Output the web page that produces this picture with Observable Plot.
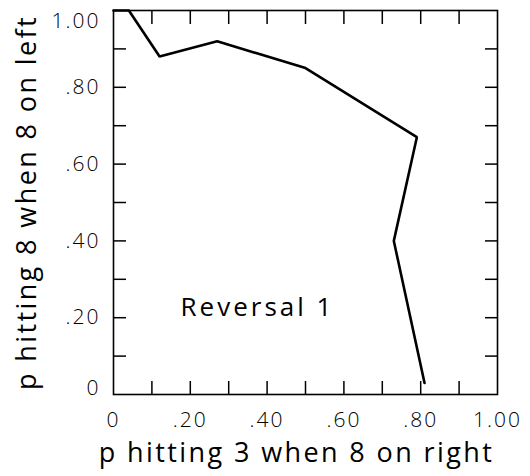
<!DOCTYPE html>
<html>
<head>
<meta charset="utf-8">
<script src="https://cdn.jsdelivr.net/npm/d3@7"></script>
<script src="https://cdn.jsdelivr.net/npm/@observablehq/plot@0.6"></script>
<style>
  html, body { margin: 0; padding: 0; background: #fff; }
  svg { display: block; }
</style>
</head>
<body>
<div id="chart"></div>
<script>
// Data
const pRight = [0, 0.04, 0.12, 0.27, 0.50, 0.79, 0.73, 0.81];
const pLeft  = [1.00, 1.00, 0.88, 0.92, 0.85, 0.67, 0.40, 0.03];

const majorTicks = [0, 0.2, 0.4, 0.6, 0.8, 1.0];
const tickLabels = ["0", ".20", ".40", ".60", ".80", "1.00"];
const minorTicks = [0.1, 0.2, 0.3, 0.4, 0.5, 0.6, 0.7, 0.8, 0.9];
const xTitle = "p hitting 3 when 8 on right";
const yTitle = "p hitting 8 when 8 on left";
const annotation = ["Reversal 1"];
const annotationX = [0.375];
const annotationY = [0.225];

const fmt = d => tickLabels[majorTicks.findIndex(t => Math.abs(t - d) < 1e-9)];

const data = pRight.map((x, i) => ({x, y: pLeft[i]}));
const font = "'Open Sans', sans-serif";
const tickText = {tickSize: 0, tickFormat: fmt, label: null, fontSize: 21, fontWeight: 300, fill: "#000"};

const chart = Plot.plot({
  width: 530,
  height: 476,
  marginLeft: 113,
  marginRight: 33,
  marginTop: 10,
  marginBottom: 82,
  style: {fontFamily: font, background: "#fff", color: "#000"},
  x: {domain: [0, 1]},
  y: {domain: [0, 1]},
  marks: [
    Plot.frame({stroke: "#000", strokeWidth: 1.6}),
    // inward ticks on all four sides
    Plot.axisX(minorTicks, {anchor: "bottom", tickSize: -13, tickFormat: () => "", label: null, strokeWidth: 1.5}),
    Plot.axisX(minorTicks, {anchor: "top", tickSize: -13, tickFormat: () => "", label: null, strokeWidth: 1.5}),
    Plot.axisY(minorTicks, {anchor: "left", tickSize: -13, tickFormat: () => "", label: null, strokeWidth: 1.5}),
    Plot.axisY(minorTicks, {anchor: "right", tickSize: -13, tickFormat: () => "", label: null, strokeWidth: 1.5}),
    // tick labels
    Plot.axisX(majorTicks, {anchor: "bottom", tickPadding: 18, ...tickText}),
    Plot.axisY(majorTicks.slice(1, 5), {anchor: "left", tickPadding: 13, ...tickText}),
    Plot.axisY([1], {anchor: "left", tickPadding: 13, ...tickText, dy: 11}),
    Plot.axisY([0], {anchor: "left", tickPadding: 13, ...tickText, dy: -6}),
    // axis titles
    Plot.text([xTitle], {frameAnchor: "bottom", lineAnchor: "middle", textAnchor: "middle", text: d => d, dy: 59, dx: -9, fontSize: 27, fontWeight: 400, fill: "#000"}),
    Plot.text([yTitle], {frameAnchor: "left", lineAnchor: "middle", textAnchor: "middle", text: d => d, rotate: -90, dx: -86, dy: 0, fontSize: 27, fontWeight: 400, fill: "#000"}),
    // annotation
    Plot.text(annotation, {x: (d, i) => annotationX[i], y: (d, i) => annotationY[i], text: d => d, fontSize: 26, fontWeight: 400, fill: "#000"}),
    // data line
    Plot.line(data, {x: "x", y: "y", stroke: "#000", strokeWidth: 2.6, strokeLinejoin: "miter"})
  ]
});

// widen letter spacing to match the wide lettering of the original
d3.select(chart).selectAll("text").each(function() {
  const t = this.textContent;
  if (t === xTitle || t === yTitle) this.style.letterSpacing = "2.4px";
  else if (annotation.includes(t)) this.style.letterSpacing = "3px";
  else if (tickLabels.includes(t)) this.style.letterSpacing = "2px";
});

document.getElementById("chart").appendChild(chart);
</script>
</body>
</html>
